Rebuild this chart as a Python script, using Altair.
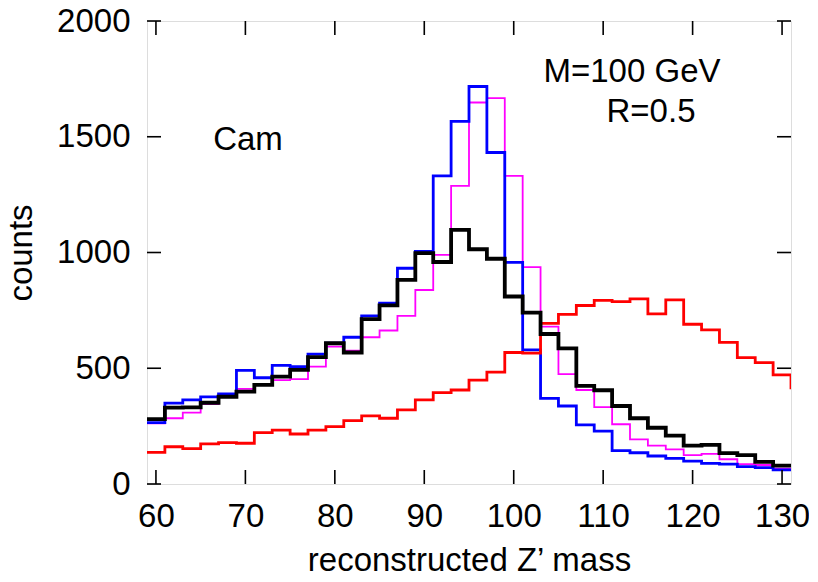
import altair as alt
import pandas as pd

# bin starts (bin width 2), x range 59..131
bin_starts = [59, 61, 63, 65, 67, 69, 71, 73, 75, 77, 79, 81, 83, 85, 87, 89, 91, 93,
              95, 97, 99, 101, 103, 105, 107, 109, 111, 113, 115, 117, 119, 121, 123, 125, 127, 129]
x_end = 131

black = [280, 330, 331, 351, 377, 399, 428, 464, 493, 548, 608, 568, 712, 772, 882, 997, 959, 1098,
         1014, 973, 810, 740, 648, 586, 424, 405, 337, 284, 243, 209, 166, 169, 133, 125, 96, 79]
blue = [265, 349, 363, 376, 389, 491, 459, 512, 507, 561, 608, 634, 726, 781, 932, 1005, 1331, 1566,
        1717, 1432, 957, 579, 370, 337, 255, 228, 144, 135, 121, 111, 99, 89, 86, 75, 71, 61]
magenta = [262, 284, 308, 345, 377, 411, 428, 449, 453, 507, 593, 576, 634, 663, 726, 838, 990, 1288,
           1648, 1667, 1331, 937, 680, 475, 406, 332, 258, 193, 166, 150, 125, 130, 107, 86, 82, 66]
red = [137, 161, 153, 173, 179, 176, 222, 233, 216, 233, 248, 274, 294, 284, 320, 363, 395, 406,
       449, 483, 568, 565, 694, 733, 771, 793, 788, 800, 735, 795, 690, 666, 612, 546, 524, 471]
red_next = 415  # next bin beyond the plotted range

x_ticks = [60, 70, 80, 90, 100, 110, 120, 130]
y_ticks = [0, 500, 1000, 1500, 2000]

W, H = 644, 463
FONT = "Liberation Sans"
FS = 33
TL = 14

xscale = alt.Scale(domain=[59, 131], nice=False, zero=False)
yscale = alt.Scale(domain=[0, 2000], nice=False)


def series_df(vals, after):
    xs = bin_starts + [x_end]
    ys = vals + [after]
    if after != vals[-1]:
        xs = xs + [x_end + 2]
        ys = ys + [after]
    return pd.DataFrame({"x": xs, "y": ys})


def step(vals, color, width, after=None):
    df = series_df(vals, vals[-1] if after is None else after)
    return alt.Chart(df).mark_line(interpolate="step-after", color=color, strokeWidth=width,
                                   clip=True, strokeJoin="miter", strokeCap="butt").encode(
        x=alt.X("x:Q", scale=xscale,
                axis=alt.Axis(values=x_ticks, format="d", title="reconstructed Z’ mass", ticks=False,
                              domain=False, grid=False, labelFontSize=FS, titleFontSize=FS, labelFont=FONT,
                              titleFont=FONT, titleFontWeight="normal", labelPadding=16, titlePadding=11,
                              labelColor="black", titleColor="black")),
        y=alt.Y("y:Q", scale=yscale,
                axis=alt.Axis(values=y_ticks, format="d", title="counts", ticks=False, domain=False,
                              grid=False, labelFontSize=FS, titleFontSize=FS, labelFont=FONT, titleFont=FONT,
                              titleFontWeight="normal", labelPadding=17, titlePadding=18,
                              labelColor="black", titleColor="black")),
    )


xt = pd.DataFrame({"t": x_ticks})
yt = pd.DataFrame({"t": y_ticks})
tick_style = dict(color="black", strokeWidth=1.6)
ticks = [
    alt.Chart(xt).mark_rule(**tick_style).encode(x=alt.X("t:Q", scale=xscale), y=alt.value(H), y2=alt.value(H - TL)),
    alt.Chart(xt).mark_rule(**tick_style).encode(x=alt.X("t:Q", scale=xscale), y=alt.value(0), y2=alt.value(TL)),
    alt.Chart(yt).mark_rule(**tick_style).encode(y=alt.Y("t:Q", scale=yscale), x=alt.value(0), x2=alt.value(TL)),
    alt.Chart(yt).mark_rule(**tick_style).encode(y=alt.Y("t:Q", scale=yscale), x=alt.value(W), x2=alt.value(W - TL)),
]

texts = [
    alt.Chart(pd.DataFrame({"s": ["Cam"]})).mark_text(fontSize=FS, font=FONT, color="black").encode(
        text="s:N", x=alt.value(101), y=alt.value(119)),
    alt.Chart(pd.DataFrame({"s": ["M=100 GeV"]})).mark_text(fontSize=FS, font=FONT, color="black").encode(
        text="s:N", x=alt.value(485), y=alt.value(51)),
    alt.Chart(pd.DataFrame({"s": ["R=0.5"]})).mark_text(fontSize=FS, font=FONT, color="black").encode(
        text="s:N", x=alt.value(504), y=alt.value(91)),
]

chart = alt.layer(
    step(magenta, "#ff00ff", 1.8),
    step(blue, "#0000ff", 2.8),
    step(red, "#ff0000", 2.8, after=red_next),
    step(black, "#000000", 3.8),
    *ticks,
    *texts,
).properties(
    width=W, height=H,
    autosize=alt.AutoSizeParams(type="none"),
    padding={"left": 139, "top": 13, "right": 18, "bottom": 90},
).configure_view(stroke="black", strokeWidth=2).configure(background="white")

chart.save("out.html", embed_options={"renderer": "svg", "actions": False})
